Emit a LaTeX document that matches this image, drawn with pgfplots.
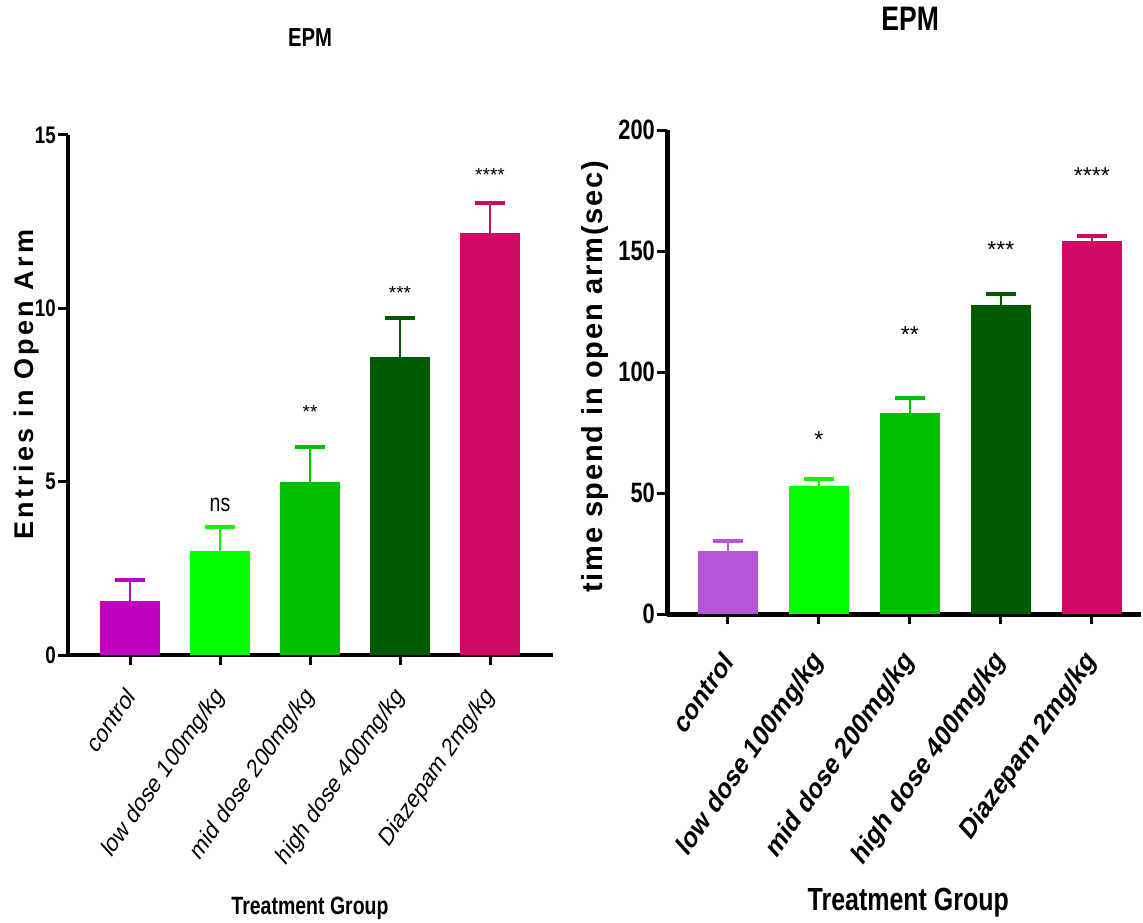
\documentclass[border=0pt]{standalone}
\usepackage{pgfplots}
\pgfplotsset{compat=1.18}
\usepackage{fontspec}
\setmainfont{Liberation Sans}
\newfontfamily\narrow[FakeStretch=0.78]{Liberation Sans}
\newfontfamily\slfont[FakeSlant=0.22]{Liberation Sans}
\newfontfamily\widefontA[LetterSpace=12]{Liberation Sans}
\newfontfamily\widefontB[LetterSpace=6]{Liberation Sans}
\definecolor{cctlA}{HTML}{C000C0}
\definecolor{cctlB}{HTML}{B855D6}
\definecolor{clow}{HTML}{00FF00}
\definecolor{cmid}{HTML}{00C000}
\definecolor{chigh}{HTML}{005A00}
\definecolor{cdia}{HTML}{D00A64}

\pgfplotsset{
  epm/.style={
    scale only axis,
    axis lines=left,
    axis line style={line width=4pt,-},
    bar shift=0pt,
    bar width=60pt,
    ymin=0,
    xtick={0,1,2,3,4},
    xticklabels={control,low dose 100mg/kg,mid dose 200mg/kg,high dose 400mg/kg,Diazepam 2mg/kg},
    tick align=outside,
    major tick length=10pt,
    tick style={line width=3pt,black},
    x tick label style={rotate=55,anchor=east,inner sep=0pt},
    y tick label style={inner sep=2pt},
    clip=false,
    /pgf/number format/assume math mode=true,
  },
  ebar/.style={
    ybar, fill=#1, draw=none,
    error bars/.cd, y dir=plus, y explicit,
    error bar style={line width=2pt,#1},
    error mark options={rotate=90,mark size=15pt,line width=4pt,#1},
  },
  stars/.style={
    only marks, mark=*, mark size=0pt, mark options={draw=none,fill=none},
    nodes near coords, point meta=explicit symbolic,
    nodes near coords style={anchor=center,text=black},
  },
}

\begin{document}
\begin{tikzpicture}
\useasboundingbox (0,0) rectangle (1143pt,922pt);

% ---------- left panel ----------
\begin{axis}[epm,
  at={(68pt,267pt)}, anchor=south west,
  width=485pt, height=520pt,
  xmin=-0.689, xmax=4.7,
  ymax=15, ytick={0,5,10,15},
  y tick label style={font=\narrow\bfseries\fontsize{24}{26}\selectfont},
  x tick label style={font=\slfont\fontsize{23}{26}\selectfont,xshift=-23pt,yshift=-16pt},
  ylabel={Entries in Open Arm},
  ylabel style={at={(axis description cs:-0.086,0.52)},anchor=center,rotate=0,font=\widefontA\bfseries\fontsize{27}{29}\selectfont},
  title={EPM},
  title style={at={(axis description cs:0.499,1.175)},anchor=center,font=\narrow\bfseries\fontsize{26}{28}\selectfont},
  xlabel={Treatment Group},
  xlabel style={at={(axis description cs:0.499,-0.487)},anchor=center,font=\narrow\bfseries\fontsize{25}{27}\selectfont},
]
\addplot[ebar=cctlA] coordinates {(0,1.56) +- (0,0.60)};
\addplot[ebar=clow]  coordinates {(1,3.00) +- (0,0.69)};
\addplot[ebar=cmid]  coordinates {(2,4.99) +- (0,1.01)};
\addplot[ebar=chigh] coordinates {(3,8.60) +- (0,1.12)};
\addplot[ebar=cdia]  coordinates {(4,12.17) +- (0,0.87)};
\addplot[stars, nodes near coords style={font=\fontsize{19}{20}\selectfont}] table[meta=lab] {
x y lab
2 7.00 **
3 10.45 ***
4 13.85 ****
};
\addplot[stars, nodes near coords style={font=\narrow\fontsize{25}{26}\selectfont}] table[meta=lab] {
x y lab
1 4.33 ns
};
\end{axis}

% ---------- right panel ----------
\begin{axis}[epm,
  at={(667pt,308pt)}, anchor=south west,
  width=474pt, height=484pt,
  xmin=-0.67, xmax=4.54,
  ymax=200, ytick={0,50,100,150,200},
  axis line style={line width=5pt,-},
  y tick label style={font=\narrow\bfseries\fontsize{28}{30}\selectfont},
  x tick label style={font=\slfont\bfseries\fontsize{26}{28}\selectfont,xshift=-28pt,yshift=-19pt},
  ylabel={time spend in open arm(sec)},
  ylabel style={at={(axis description cs:-0.152,0.49)},anchor=center,rotate=0,font=\widefontB\bfseries\fontsize{29}{31}\selectfont},
  title={EPM},
  title style={at={(axis description cs:0.513,1.217)},anchor=center,font=\narrow\bfseries\fontsize{34}{36}\selectfont},
  xlabel={Treatment Group},
  xlabel style={at={(axis description cs:0.509,-0.597)},anchor=center,font=\narrow\bfseries\fontsize{32}{34}\selectfont},
]
\addplot[ebar=cctlB] coordinates {(0,26.0) +- (0,4.2)};
\addplot[ebar=clow]  coordinates {(1,52.9) +- (0,2.9)};
\addplot[ebar=cmid]  coordinates {(2,83.0) +- (0,6.3)};
\addplot[ebar=chigh] coordinates {(3,127.7) +- (0,4.5)};
\addplot[ebar=cdia]  coordinates {(4,154.1) +- (0,2.1)};
\addplot[stars, nodes near coords style={font=\fontsize{23}{24}\selectfont}] table[meta=lab] {
x y lab
1 71.9 *
2 115.3 **
3 150.4 ***
4 181.0 ****
};
\end{axis}
\end{tikzpicture}
\end{document}
